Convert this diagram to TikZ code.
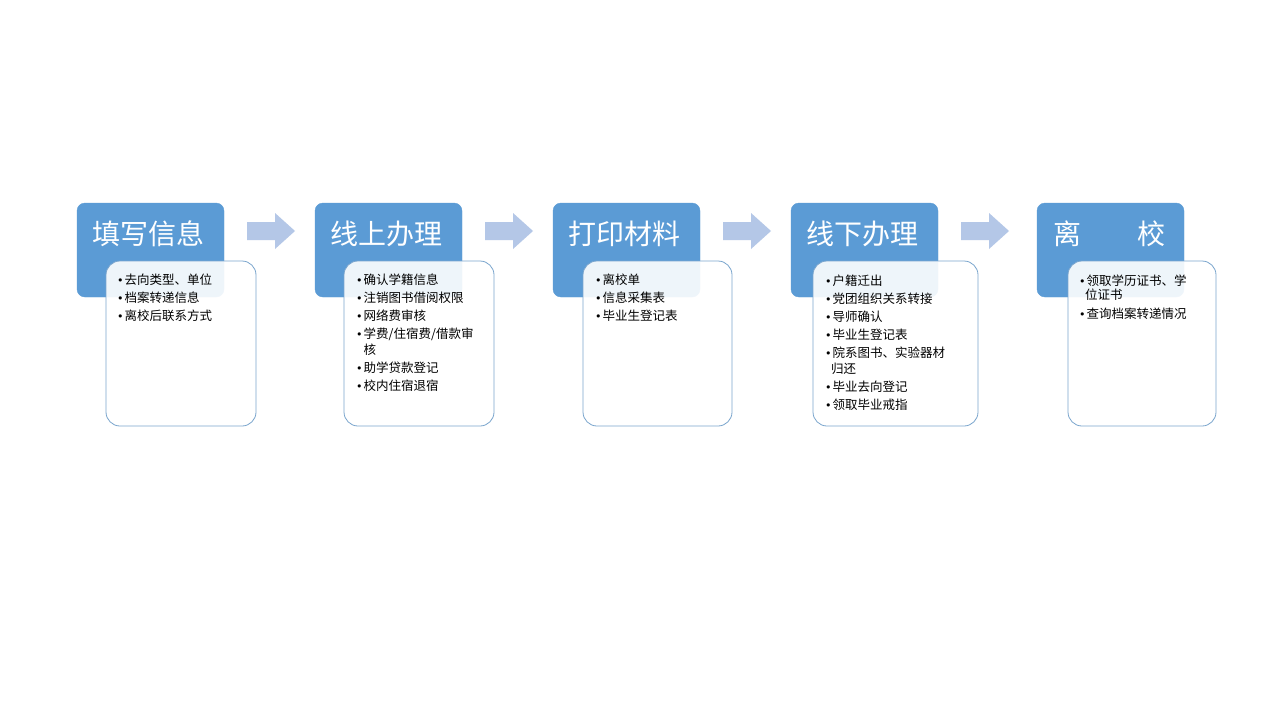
\documentclass[tikz,border=0pt]{standalone}
\usepackage{fontspec}
\newfontfamily\cjk{Noto Sans CJK SC}
\newfontfamily\dejavu{DejaVu Sans}
\usetikzlibrary{calc}
\definecolor{hdr}{HTML}{5B9BD5}
\definecolor{bdr}{HTML}{7AA5CD}
\definecolor{arr}{HTML}{B4C7E7}
\tikzset{
  hdrbox/.style={fill=hdr, draw=hdr, rounded corners=8pt, minimum width=147pt, minimum height=94pt, anchor=north west, inner sep=0pt, outer sep=0pt},
  detbox/.style={fill=white, fill opacity=0.9, draw=bdr, line width=0.8pt, rounded corners=14pt, minimum height=165pt, anchor=north west, inner sep=0pt, outer sep=0pt},
  title/.style={text=white, font=\cjk\fontsize{28}{28}\selectfont, inner sep=0pt, anchor=base},
  item/.style={font=\cjk\fontsize{12.5}{14}\selectfont, inner sep=0pt, anchor=base west, text=black},
  blockarrow/.style={fill=arr}
}
\newcommand{\bl}{\makebox[7.5pt][l]{\dejavu\fontsize{11}{11}\selectfont •}}
\begin{document}
\begin{tikzpicture}[x=1pt,y=-1pt]
\useasboundingbox[fill=white] (0,0) rectangle (1280,720);
% headers
\node[hdrbox] (h1) at (77,203) {};
\node[hdrbox] (h2) at (315,203) {};
\node[hdrbox] (h3) at (553,203) {};
\node[hdrbox] (h4) at (791,203) {};
\node[hdrbox] (h5) at (1037,203) {};
% titles
\node[title] (t1) at (148.5,244) {填写信息};
\node[title] (t2) at (386.5,244) {线上办理};
\node[title] (t3) at (624.5,244) {打印材料};
\node[title] (t4) at (862.5,244) {线下办理};
\node[title] (t5) at (1109.5,244) {离　　校};
% detail boxes
\node[detbox, minimum width=150pt] (d1) at (106,261) {};
\node[detbox, minimum width=150pt] (d2) at (344,261) {};
\node[detbox, minimum width=149pt] (d3) at (583,261) {};
\node[detbox, minimum width=165pt] (d4) at (813,261) {};
\node[detbox, minimum width=148pt] (d5) at (1068,261) {};
% arrows
\foreach \a/\b in {h1/h2,h2/h3,h3/h4,h4/h5}{
  \fill[blockarrow] ($(\a.north east)+(23,19)$) -- ++(28,0) -- ++(0,-9) -- ++(20,18) -- ++(-20,18) -- ++(0,-9) -- ++(-28,0) -- cycle;
}
% box 1 items
\node[item] (i1a) at (117,284.5) {\bl 去向类型、单位};
\node[item] (i1b) at (117,302.5) {\bl 档案转递信息};
\node[item] (i1c) at (117,320.5) {\bl 离校后联系方式};
% box 2 items
\node[item] (i2a) at (356,284.5) {\bl 确认学籍信息};
\node[item] (i2b) at (356,302.5) {\bl 注销图书借阅权限};
\node[item] (i2c) at (356,320.5) {\bl 网络费审核};
\node[item] (i2d) at (356,338.5) {\bl 学费/住宿费/借款审};
\node[item] (i2e) at (363.5,354.5) {核};
\node[item] (i2f) at (356,372.5) {\bl 助学贷款登记};
\node[item] (i2g) at (356,390.5) {\bl 校内住宿退宿};
% box 3 items
\node[item] (i3a) at (595,284.5) {\bl 离校单};
\node[item] (i3b) at (595,302.5) {\bl 信息采集表};
\node[item] (i3c) at (595,320.5) {\bl 毕业生登记表};
% box 4 items
\node[item] (i4a) at (825,285) {\bl 户籍迁出};
\node[item] (i4b) at (825,303) {\bl 党团组织关系转接};
\node[item] (i4c) at (825,321) {\bl 导师确认};
\node[item] (i4d) at (825,339) {\bl 毕业生登记表};
\node[item] (i4e) at (825,357) {\bl 院系图书、实验器材};
\node[item] (i4f) at (831,373) {归还};
\node[item] (i4g) at (825,391) {\bl 毕业去向登记};
\node[item] (i4h) at (825,409) {\bl 领取毕业戒指};
% box 5 items
\node[item] (i5a) at (1079,285) {\bl 领取学历证书、学};
\node[item] (i5b) at (1085,299) {位证书};
\node[item] (i5c) at (1079,318) {\bl 查询档案转递情况};
\end{tikzpicture}
\end{document}
